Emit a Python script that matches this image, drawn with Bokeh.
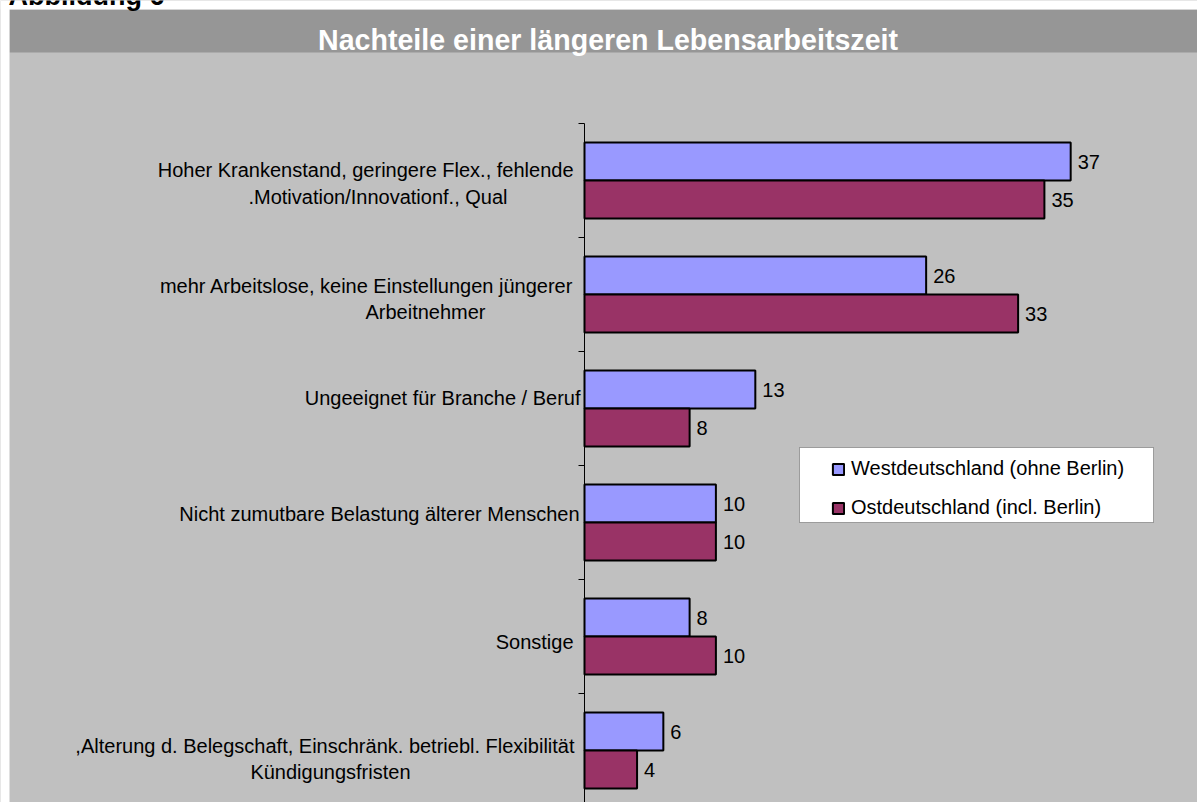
from bokeh.plotting import figure
from bokeh.models import (Range1d, FixedTicker, ColumnDataSource, Label, LinearAxis,
                          BoxAnnotation, Legend, LegendItem, CustomJSTickFormatter)
from bokeh.embed import file_html
from bokeh.resources import INLINE
from bokeh.core.properties import value

# ---------------- data ----------------
figure_label = "Abbildung 6"
chart_title = "Nachteile einer längeren Lebensarbeitszeit"
categories = [
    "Hoher Krankenstand, geringere Flex., fehlende\n.Motivation/Innovationf., Qual",
    "mehr Arbeitslose, keine Einstellungen jüngerer\nArbeitnehmer",
    "Ungeeignet für Branche / Beruf",
    "Nicht zumutbare Belastung älterer Menschen",
    "Sonstige",
    ",Alterung d. Belegschaft, Einschränk. betriebl. Flexibilität\nKündigungsfristen",
]
series_names = ["Westdeutschland (ohne Berlin)", "Ostdeutschland (incl. Berlin)"]
west = [37, 26, 13, 10, 8, 6]
east = [35, 33, 8, 10, 10, 4]

# ---------------- styles / layout ----------------
WEST_COLOR = "#9999FF"
EAST_COLOR = "#993366"
BG = "#C0C0C0"
BAR_DARK = "#969696"
FONT = "Liberation Sans"
FS = "20px"
PX_PER_UNIT = 13.14     # px per percentage point
CAT_PX = 114.0          # px per category band
AXIS_X = 584            # page x of value 0
FIRST_BOUND = 123       # page y of first category boundary
CANVAS_X0, CANVAS_X1 = 0, 1197
CANVAS_Y0, CANVAS_Y1 = 0, 802

# per label line: (right-edge offset from axis in px, vertical centre offset from band centre in px)
line_styles = [
    [(-11, -10.3), (-77, 16.3)],
    [(-11, -9), (-99, 17)],
    [(-4, -11)],
    [(-5, -9)],
    [(-11, 5)],
    [(-10, -5), (-174, 21)],
]

def xpx(px):
    return (px - AXIS_X) / PX_PER_UNIT

def ypx(px):
    return (px - FIRST_BOUND) / CAT_PX

p = figure(width=CANVAS_X1 - CANVAS_X0, height=CANVAS_Y1 - CANVAS_Y0,
           x_range=Range1d(xpx(CANVAS_X0), xpx(CANVAS_X1)),
           y_range=Range1d(ypx(CANVAS_Y1), ypx(CANVAS_Y0)),
           toolbar_location=None, x_axis_location=None, y_axis_location=None,
           output_backend="svg", min_border=0, border_fill_color=BG,
           background_fill_color=BG, outline_line_color=None)
p.xgrid.visible = False
p.ygrid.visible = False

# background panels: dark title strip, white page edge above and left
p.add_layout(BoxAnnotation(left=xpx(9), right=xpx(CANVAS_X1 + 20), top=ypx(9), bottom=ypx(52),
                           fill_color=BAR_DARK, fill_alpha=1, line_color=None, level="underlay"))
p.add_layout(BoxAnnotation(bottom=ypx(9), fill_color="white", fill_alpha=1,
                           line_color=None, level="underlay"))
p.add_layout(BoxAnnotation(right=xpx(9), fill_color="white", fill_alpha=1,
                           line_color=None, level="underlay"))

# figure label (cut at the top edge, as in the reference) and title
p.add_layout(Label(x=xpx(8), y=ypx(-5), text=figure_label, text_align="left",
                   text_baseline="middle", text_font=FONT, text_font_style="bold",
                   text_font_size="27px", text_color="black"))
p.add_layout(Label(x=xpx(607.5), y=ypx(39.5), text=chart_title, text_align="center",
                   text_baseline="middle", text_font=FONT, text_font_style="bold",
                   text_font_size="28.6px", text_color="white"))

# bars
idx = list(range(len(categories)))
src = ColumnDataSource(dict(
    yw=[i + 1 / 3 for i in idx], ye=[i + 2 / 3 for i in idx],
    west=west, east=east,
    wt=[str(v) for v in west], et=[str(v) for v in east],
))
rw = p.hbar(y="yw", left=0, right="west", height=1 / 3, source=src,
            fill_color=WEST_COLOR, line_color="black", line_width=2)
re_ = p.hbar(y="ye", left=0, right="east", height=1 / 3, source=src,
             fill_color=EAST_COLOR, line_color="black", line_width=2)
p.text(x="west", y="yw", text="wt", source=src, x_offset=7, y_offset=0,
       text_baseline="middle", text_align="left", text_font=value(FONT),
       text_font_size=FS, text_color="black")
p.text(x="east", y="ye", text="et", source=src, x_offset=7, y_offset=0,
       text_baseline="middle", text_align="left", text_font=value(FONT),
       text_font_size=FS, text_color="black")

# category axis (drawn at value 0)
ax = LinearAxis(fixed_location=0,
                ticker=FixedTicker(ticks=list(range(len(categories) + 1))),
                formatter=CustomJSTickFormatter(code="return ''"),
                bounds=(0, len(categories)))
ax.axis_line_color = "black"
ax.axis_line_width = 1
ax.major_tick_line_color = "black"
ax.major_tick_out = 6
ax.major_tick_in = 0
ax.minor_tick_line_color = None
ax.major_label_text_font_size = "1px"
p.add_layout(ax, "left")

# category labels
lx, ly, lt, lo = [], [], [], []
for i, cat in enumerate(categories):
    for line, (xo, dy) in zip(cat.split("\n"), line_styles[i]):
        lx.append(0)
        ly.append(i + 0.5 + dy / CAT_PX)
        lt.append(line)
        lo.append(xo)
lsrc = ColumnDataSource(dict(x=lx, y=ly, text=lt, xo=lo))
p.text(x="x", y="y", text="text", x_offset="xo", source=lsrc,
       text_align="right", text_baseline="middle",
       text_font=value(FONT), text_font_size=FS, text_color="black")

# legend box + legend
p.add_layout(BoxAnnotation(left=xpx(799), right=xpx(1153), top=ypx(447), bottom=ypx(522),
                           fill_color="white", fill_alpha=1, line_color="black", line_width=1))
legend = Legend(items=[LegendItem(label=series_names[0], renderers=[rw]),
                       LegendItem(label=series_names[1], renderers=[re_])],
                location=(831 - CANVAS_X0, CANVAS_Y1 - 519), padding=0, margin=0, spacing=16,
                glyph_width=14, glyph_height=14, label_standoff=6, label_height=22,
                label_text_font=FONT, label_text_font_size=FS, label_text_color="black",
                border_line_color=None, background_fill_alpha=0)
p.add_layout(legend)

open("out.html", "w").write(file_html(p, INLINE))
